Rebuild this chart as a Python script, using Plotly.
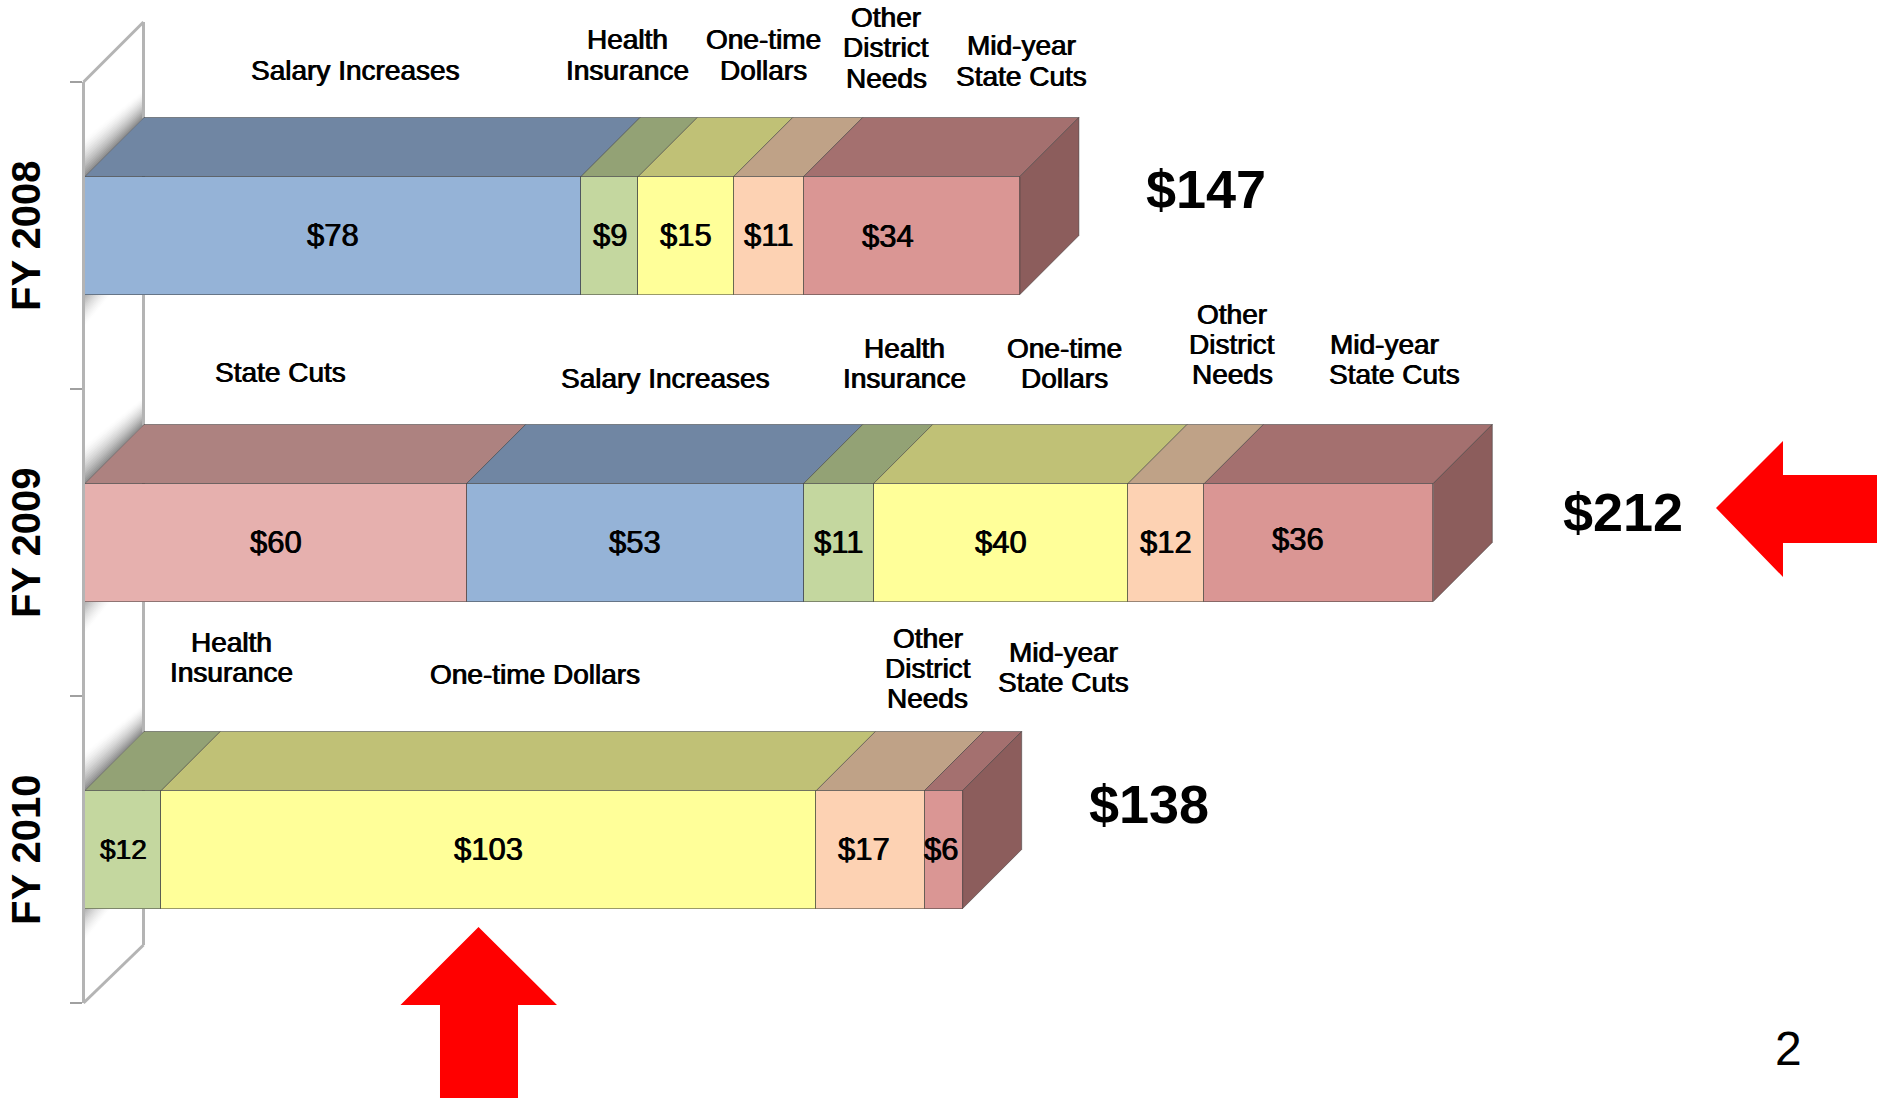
import plotly.graph_objects as go

# ---------- data ----------
years = ["FY 2008", "FY 2009", "FY 2010"]
state_cuts = [None, 60, None]
salary_increases = [78, 53, None]
health_insurance = [9, 11, 12]
one_time_dollars = [15, 40, 103]
other_district_needs = [11, 12, 17]
mid_year_state_cuts = [34, 36, 6]
totals = [147, 212, 138]
total_labels = ["$147", "$212", "$138"]

series_names = ["State Cuts", "Salary Increases", "Health Insurance",
                "One-time Dollars", "Other District Needs", "Mid-year State Cuts"]
series_values = [state_cuts, salary_increases, health_insurance,
                 one_time_dollars, other_district_needs, mid_year_state_cuts]

# ---------- styles ----------
front_colors = ["#E6B0AE", "#95B3D7", "#C4D79F", "#FFFF99", "#FDD2B3", "#DA9694"]
top_colors = ["#AD8280", "#7086A3", "#93A275", "#C0C176", "#BFA287", "#A4706F"]
side_color = "#8C5D5C"
edge = "rgba(55,55,55,0.5)"
FONT = "Liberation Sans"
HEAVY = "0.6px 0 0.6px rgba(0,0,0,0.85), -0.5px 0 0.6px rgba(0,0,0,0.85)"

W, H = 1877, 1098
L, T, B = 85, 82, 95
PW, PH = W - L, H - T - B
X_PER_UNIT = 6.36
BAR_W = 118 / 307        # front face height, in category units
DEPTH_X = 59 / X_PER_UNIT
DEPTH_Y = 59 / 307
WALL_X = 143.5


def px(x, y):
    return (x - L) / PW, (H - B - y) / PH


def poly(points):
    out = []
    for i, (x, y) in enumerate(points):
        a, b = px(x, y)
        out.append(("M" if i == 0 else "L") + f"{a:.5f},{b:.5f}")
    return " ".join(out) + " Z"


shapes = []


def add_poly(points, fill):
    shapes.append(dict(type="path", path=poly(points), xref="paper", yref="paper",
                       fillcolor=fill, line=dict(width=0), layer="below"))


def add_line(x0, y0, x1, y1, color="#b4b4b4", width=3):
    a0, b0 = px(x0, y0)
    a1, b1 = px(x1, y1)
    shapes.append(dict(type="line", x0=a0, y0=b0, x1=a1, y1=b1, xref="paper", yref="paper",
                       line=dict(color=color, width=width), layer="below"))


def grey(t):
    # t=1 nearest the bar, t=0 white
    v = round(255 - (255 - 135) * t ** 1.5)
    return f"rgb({v},{v},{v})"


# wall shadows, band by band
N = 16
for i in range(3):
    cy = 235.2 + 307 * i
    ft, fb, bt = cy - 59, cy + 59, cy - 118
    for k in range(N, 0, -1):
        f = k / N
        add_poly([(L, ft), (WALL_X, bt), (WALL_X, bt - 28 * f), (L, ft - 40 * f)], grey(1 - f))
    for k in range(N, 0, -1):
        f = k / N
        add_poly([(L, fb), (L + 28 * f, fb), (L, fb + 34 * f)], grey((1 - f) * 0.8))

# wall lines
add_line(L - 1.5, 82, WALL_X, 22)
add_line(WALL_X, 22, WALL_X, 945)
add_line(WALL_X, 945, L - 1.5, 1003)

# red arrows
RED = "#FF0000"
shapes.append(dict(type="path", xref="paper", yref="paper", fillcolor=RED, line=dict(width=0),
                   path=poly([(1716, 508), (1783, 441), (1783, 475), (1877, 475),
                              (1877, 543), (1783, 543), (1783, 577)])))
shapes.append(dict(type="path", xref="paper", yref="paper", fillcolor=RED, line=dict(width=0),
                   path=poly([(478.5, 927), (557, 1005), (518, 1005), (518, 1098),
                              (440, 1098), (440, 1005), (400.5, 1005)])))

fig = go.Figure()

# front faces
for name, vals, col in zip(series_names, series_values, front_colors):
    fig.add_trace(go.Bar(name=name, y=list(range(3)), x=vals, orientation="h", width=BAR_W,
                         marker=dict(color=col, line=dict(color=edge, width=1)),
                         showlegend=False, hoverinfo="skip"))

# top faces and right side, derived from the values
annotations = []
value_x_shift = {(0, 5): -24, (1, 5): -21, (2, 4): -6, (2, 5): -3}
value_y_shift = {(1, 5): 3, (0, 5): -1}
value_size = {(2, 2): 28}
for row in range(3):
    top = row - BAR_W / 2
    bottom = row + BAR_W / 2
    start = 0
    for s, vals in enumerate(series_values):
        v = vals[row]
        if v is None:
            continue
        end = start + v
        fig.add_trace(go.Scatter(
            x=[start, end, end + DEPTH_X, start + DEPTH_X, start],
            y=[top, top, top - DEPTH_Y, top - DEPTH_Y, top],
            mode="lines", fill="toself", fillcolor=top_colors[s],
            line=dict(color=edge, width=1), showlegend=False, hoverinfo="skip"))
        annotations.append(dict(
            x=(start + end) / 2, y=row, xref="x", yref="y", text=f"${v}", showarrow=False,
            xanchor="center", yanchor="middle",
            xshift=value_x_shift.get((row, s), 0), yshift=value_y_shift.get((row, s), 0),
            font=dict(family=FONT, size=value_size.get((row, s), 31), color="#000", shadow=HEAVY)))
        start = end
    fig.add_trace(go.Scatter(
        x=[start, start + DEPTH_X, start + DEPTH_X, start, start],
        y=[top, top - DEPTH_Y, bottom - DEPTH_Y, bottom, top],
        mode="lines", fill="toself", fillcolor=side_color,
        line=dict(color=edge, width=1), showlegend=False, hoverinfo="skip"))

# totals
total_x_shift = [186, 190, 186]
total_y_shift = [47, 31, 46]
for row, (t, lab) in enumerate(zip(totals, total_labels)):
    annotations.append(dict(x=t, y=row, xref="x", yref="y", text=lab, showarrow=False,
                            xanchor="center", yanchor="middle",
                            xshift=total_x_shift[row], yshift=total_y_shift[row],
                            font=dict(family=FONT, size=54, color="#000", weight="bold")))

# category captions above the bars: (lines, centre x, centre y of the block) in page pixels
captions = [
    (["Salary Increases"], 355.5, 70),
    (["Health", "Insurance"], 627, 55),
    (["One-time", "Dollars"], 763, 55),
    (["Other", "District", "Needs"], 886, 48),
    (["Mid-year", "State Cuts"], 1021, 61),
    (["State Cuts"], 280, 372),
    (["Salary Increases"], 665.5, 378),
    (["Health", "Insurance"], 904, 363),
    (["One-time", "Dollars"], 1064, 363),
    (["Other", "District", "Needs"], 1232, 344),
    (["Mid-year"], 1384, 344),
    (["State Cuts"], 1394.5, 374),
    (["Health", "Insurance"], 231, 657),
    (["One-time Dollars"], 535, 674),
    (["Other", "District", "Needs"], 927.5, 668),
    (["Mid-year", "State Cuts"], 1063, 667),
]
LINE = 30
for lines, cx, cy in captions:
    for j, line in enumerate(lines):
        a, b = px(cx, cy + (j - (len(lines) - 1) / 2) * LINE)
        annotations.append(dict(x=a, y=b, xref="paper", yref="paper", text=line, showarrow=False,
                                xanchor="center", yanchor="middle",
                                font=dict(family=FONT, size=28, color="#000", shadow=HEAVY)))

# page number
a, b = px(1788, 1048)
annotations.append(dict(x=a, y=b, xref="paper", yref="paper", text="2", showarrow=False,
                        xanchor="center", yanchor="middle",
                        font=dict(family=FONT, size=48, color="#000")))

fig.update_layout(
    width=W, height=H, autosize=False,
    margin=dict(l=L, r=0, t=T, b=B, pad=0),
    paper_bgcolor="white", plot_bgcolor="rgba(0,0,0,0)",
    barmode="stack", bargap=0, showlegend=False,
    shapes=shapes, annotations=annotations,
    xaxis=dict(visible=False, range=[0, PW / X_PER_UNIT], fixedrange=True, automargin=False),
    yaxis=dict(range=[2.5, -0.5], tickmode="array", tickvals=[0.02, 1.02, 2.02], ticktext=years,
               automargin=False, tickangle=-90, ticks="", ticklabelstandoff=26,
               tickfont=dict(family=FONT, size=40, color="#000", weight="bold"),
               showgrid=False, zeroline=False, showline=True, linecolor="#b4b4b4", linewidth=3,
               minor=dict(tickmode="array", tickvals=[-0.5, 0.5, 1.5, 2.5], ticks="outside",
                          ticklen=12, tickwidth=2, tickcolor="#a0a0a0", showgrid=False),
               fixedrange=True),
)

fig.write_html("out.html", config=dict(displayModeBar=False),
               post_script="document.body.style.margin='0';")
